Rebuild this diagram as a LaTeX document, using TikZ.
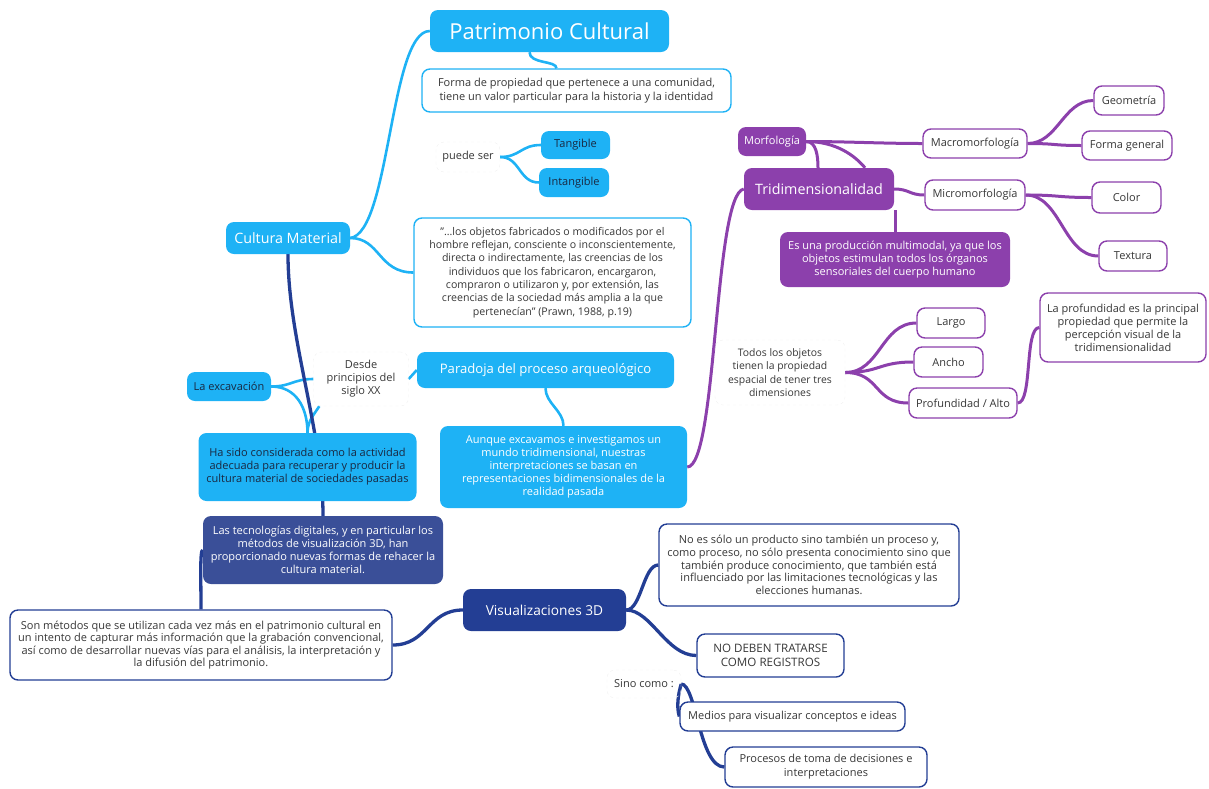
\documentclass[tikz,border=0pt]{standalone}
\usepackage{fontspec}
\setmainfont{Open Sans}
\usetikzlibrary{calc, backgrounds}

\definecolor{cmcyan}{RGB}{30,178,245}
\definecolor{cmpurple}{RGB}{140,64,172}
\definecolor{cmnavy}{RGB}{35,62,148}
\definecolor{cmslate}{RGB}{58,79,152}
\definecolor{txtdark}{RGB}{25,40,65}
\definecolor{txtgray}{RGB}{55,55,55}

\begin{document}
\begin{tikzpicture}[
    x=1pt, y=-1pt,
    box/.style={rounded corners=8pt, align=center, inner sep=2pt,
                font=\fontsize{11}{14}\selectfont},
    cfill/.style={box, fill=cmcyan, text=white},
    cdark/.style={box, fill=cmcyan, text=txtdark},
    cline/.style={box, draw=cmcyan, line width=1.4pt, fill=white, text=txtgray},
    pfill/.style={box, fill=cmpurple, text=white},
    pline/.style={box, draw=cmpurple, line width=1.4pt, fill=white, text=txtgray},
    nfill/.style={box, fill=cmnavy, text=white},
    sfill/.style={box, fill=cmslate, text=white},
    nline/.style={box, draw=cmnavy, line width=1.4pt, fill=white, text=txtgray},
    plaintxt/.style={box, draw=black!6, dashed, text=txtgray},
    txtsmall/.style={font=\fontsize{10.6}{13.3}\selectfont},
    txttight/.style={font=\fontsize{11}{12.6}\selectfont},
    txtlong/.style={font=\fontsize{11}{13}\selectfont},
    headtxt/.style={font=\fontsize{14.3}{17}\selectfont},
    cyanlink/.style={draw=cmcyan, line width=2.6pt},
    purplink/.style={draw=cmpurple, line width=3pt},
    navylink/.style={draw=cmnavy, line width=3.3pt}
  ]
  \useasboundingbox (0,0) rectangle (1209,788);

  % Patrimonio / Cultura Material
  \node[cfill, minimum width=239pt, minimum height=42pt,
        font=\fontsize{22}{26}\selectfont] (patrimonio) at (549.5,31) {Patrimonio Cultural};
  \node[cline, minimum width=309pt, minimum height=43pt] (forma) at (576.5,90.5)
    {Forma de propiedad que pertenece a una comunidad,\\tiene un valor particular para la historia y la identidad};
  \node[plaintxt, minimum width=64pt, minimum height=30pt] (puede) at (468,157) {puede ser};
  \node[cdark, minimum width=69pt, minimum height=28pt] (tangible) at (575.5,145) {Tangible};
  \node[cdark, minimum width=70pt, minimum height=29pt] (intangible) at (574,182.5) {Intangible};
  \node[cfill, headtxt, minimum width=124pt, minimum height=32pt] (cultura) at (288,238) {Cultura Material};
  \node[cline, txtsmall, minimum width=277pt, minimum height=109pt] (cita) at (552.5,272.5)
    {\symbol{34}…los objetos fabricados o modificados por el\\hombre reflejan, consciente o inconscientemente,\\directa o indirectamente, las creencias de los\\individuos que los fabricaron, encargaron,\\compraron o utilizaron y, por extensión, las\\creencias de la sociedad más amplia a la que\\pertenecían\symbol{34} (Prawn, 1988, p.19)};

  % Tridimensionalidad
  \node[pfill, minimum width=68pt, minimum height=29pt] (morfologia) at (772,141.5) {Morfología};
  \node[pfill, headtxt, minimum width=150pt, minimum height=42pt] (tridim) at (819,189) {Tridimensionalidad};
  \node[pfill, txtlong, minimum width=230pt, minimum height=55pt] (multimodal) at (895,259.5)
    {Es una producción multimodal, ya que los\\objetos estimulan todos los órganos\\sensoriales del cuerpo humano};
  \node[pline, minimum width=104pt, minimum height=29pt] (macro) at (975,143.5) {Macromorfología};
  \node[pline, minimum width=100pt, minimum height=30pt] (micro) at (975,195) {Micromorfología};
  \node[pline, minimum width=70pt, minimum height=29pt] (geometria) at (1129,100.5) {Geometría};
  \node[pline, minimum width=90pt, minimum height=29pt] (formagen) at (1127,145.5) {Forma general};
  \node[pline, minimum width=69pt, minimum height=31pt] (color) at (1126.5,197.5) {Color};
  \node[pline, minimum width=68pt, minimum height=30pt] (textura) at (1133,256) {Textura};
  \node[plaintxt, font=\fontsize{10.4}{13.3}\selectfont, minimum width=130pt, minimum height=65pt] (todos) at (780,372.5)
    {Todos los objetos\\tienen la propiedad\\espacial de tener tres\\dimensiones};
  \node[pline, minimum width=68pt, minimum height=30pt] (largo) at (951,323) {Largo};
  \node[pline, minimum width=69pt, minimum height=30pt] (ancho) at (948.5,362) {Ancho};
  \node[pline, minimum width=108pt, minimum height=30pt] (alto) at (963,403) {Profundidad / Alto};
  \node[pline, txtlong, minimum width=166pt, minimum height=69pt] (profundidad) at (1123,327.5)
    {La profundidad es la principal\\propiedad que permite la\\percepción visual de la\\tridimensionalidad};

  % Paradoja / excavacion
  \node[cfill, minimum width=257pt, minimum height=36pt,
        font=\fontsize{13.1}{15}\selectfont] (paradoja) at (545.5,370) {Paradoja del proceso arqueológico};
  \node[cfill, txtlong, minimum width=247pt, minimum height=82pt] (aunque) at (563.5,467)
    {Aunque excavamos e investigamos un\\mundo tridimensional, nuestras\\interpretaciones se basan en\\representaciones bidimensionales de la\\realidad pasada};
  \node[plaintxt, txtlong, minimum width=95pt, minimum height=54pt] (desde) at (361,379) {Desde\\principios del\\siglo XX};
  \node[cdark, minimum width=84pt, minimum height=29pt] (excavacion) at (229,386.5) {La excavación};
  \node[cdark, txtlong, minimum width=218pt, minimum height=68pt] (hasido) at (307.5,467)
    {Ha sido considerada como la actividad\\adecuada para recuperar y producir la\\cultura material de sociedades pasadas};

  % Visualizaciones 3D
  \node[sfill, txtlong, minimum width=240pt, minimum height=68pt] (tecno) at (323,550)
    {Las tecnologías digitales, y en particular los\\métodos de visualización 3D, han\\proporcionado nuevas formas de rehacer la\\cultura material.};
  \node[nfill, minimum width=163pt, minimum height=42pt,
        font=\fontsize{13.7}{16}\selectfont] (visual) at (544.5,610) {Visualizaciones 3D};
  \node[nline, txttight, minimum width=382pt, minimum height=70pt] (metodos) at (201,645)
    {Son métodos que se utilizan cada vez más en el patrimonio cultural en\\un intento de capturar más información que la grabación convencional,\\así como de desarrollar nuevas vías para el análisis, la interpretación y\\la difusión del patrimonio.};
  \node[nline, txttight, minimum width=300pt, minimum height=82pt] (proceso) at (809,565)
    {No es sólo un producto sino también un proceso y,\\como proceso, no sólo presenta conocimiento sino que\\también produce conocimiento, que también está\\influenciado por las limitaciones tecnológicas y las\\elecciones humanas.};
  \node[nline, font=\fontsize{11.6}{14}\selectfont, minimum width=147pt, minimum height=43pt] (registros) at (770.5,655.5) {NO DEBEN TRATARSE\\COMO REGISTROS};
  \node[plaintxt, minimum width=74pt, minimum height=28pt] (sino) at (644,684) {Sino como :};
  \node[nline, minimum width=225pt, minimum height=29pt] (medios) at (792.5,716.5) {Medios para visualizar conceptos e ideas};
  \node[nline, minimum width=202pt, minimum height=40pt] (decision) at (826,767) {Procesos de toma de decisiones e\\interpretaciones};

  \begin{scope}[on background layer]
    % cyan branches
    \draw[cyanlink] (cultura.east) .. controls +(40,-5) and +(-40,0) .. (patrimonio.west);
    \draw[cyanlink] (cultura.east) .. controls +(30,0) and +(-35,0) .. (cita.west);
    \draw[cyanlink] ($(patrimonio.south)+(-20,0)$) .. controls +(0,12) and +(0,-8) .. ($(forma.north)+(-20,0)$);
    \draw[cyanlink] (puede.east) .. controls +(20,0) and +(-20,0) .. (tangible.west);
    \draw[cyanlink] (puede.east) .. controls +(20,0) and +(-20,0) .. (intangible.west);
    \draw[cyanlink] (paradoja.south) .. controls +(0,15) and +(0,-15) .. (aunque.north);
    \draw[cyanlink] (desde.east) -- (paradoja.west);
    \draw[cyanlink] (excavacion.east) .. controls +(20,0) and +(-20,0) .. (desde.west);
    \draw[cyanlink] (excavacion.east) .. controls +(25,0) and +(0,-25) .. (hasido.north);
    \draw[cyanlink] ($(desde.south west)+(6,0)$) .. controls +(-5,8) and +(0,-12) .. (hasido.north);
    % purple branches
    \draw[purplink] (tridim.west) .. controls +(-30,5) and +(30,0) .. (aunque.east);
    \draw[purplink] (morfologia.east) .. controls +(40,0) and +(-40,0) .. (macro.west);
    \draw[purplink] (morfologia.east) .. controls +(10,0) and +(0,-12) .. ($(tridim.north)+(-1,0)$);
    \draw[purplink] (morfologia.east) .. controls +(30,0) and +(-10,-12) .. ($(tridim.north)+(46,0)$);
    \draw[purplink] (tridim.east) .. controls +(15,0) and +(-15,0) .. (micro.west);
    \draw[purplink] (tridim.south east -| multimodal.north) -- (multimodal.north);
    \draw[purplink] (macro.east) .. controls +(30,0) and +(-30,0) .. (geometria.west);
    \draw[purplink] (macro.east) .. controls +(30,0) and +(-30,0) .. (formagen.west);
    \draw[purplink] (micro.east) .. controls +(35,0) and +(-35,0) .. (color.west);
    \draw[purplink] (micro.east) .. controls +(35,0) and +(-35,0) .. (textura.west);
    \draw[purplink] (todos.east) .. controls +(35,0) and +(-35,0) .. (largo.west);
    \draw[purplink] (todos.east) .. controls +(35,0) and +(-35,0) .. (ancho.west);
    \draw[purplink] (todos.east) .. controls +(35,0) and +(-35,0) .. (alto.west);
    \draw[purplink] (alto.east) .. controls +(15,0) and +(-15,0) .. (profundidad.west);
    % navy branches
    \draw[navylink] (cultura.south) .. controls +(0,86) and +(0,-86) .. (tecno.north);
    \draw[navylink] (tecno.west) .. controls +(-3,0) and +(0,-30) .. (metodos.north);
    \draw[navylink] (metodos.east) .. controls +(35,0) and +(-35,0) .. (visual.west);
    \draw[navylink] (visual.east) .. controls +(15,0) and +(-15,0) .. (proceso.west);
    \draw[navylink] (visual.east) .. controls +(25,0) and +(-30,0) .. (registros.west);
    \draw[navylink] (sino.east) .. controls +(-3,10) and +(-3,-10) .. (medios.west);
    \draw[navylink] (sino.east) .. controls +(15,0) and +(-25,0) .. (decision.west);
  \end{scope}
\end{tikzpicture}
\end{document}
